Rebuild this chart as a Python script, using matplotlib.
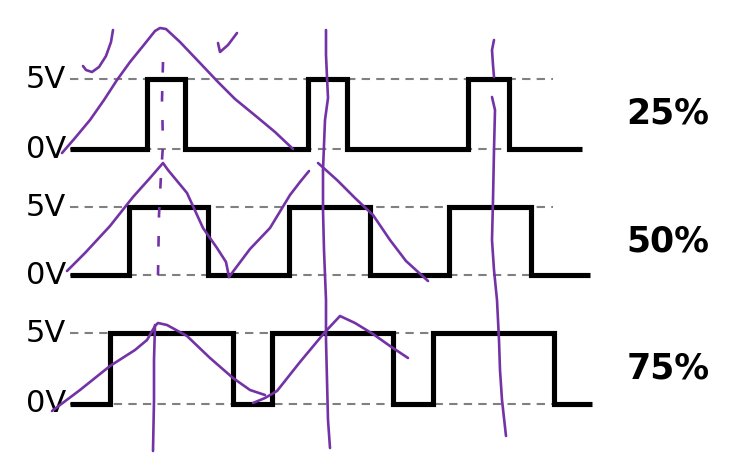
import matplotlib
matplotlib.use("Agg")
import matplotlib.pyplot as plt

# PWM waveforms, in picture units (x to the right, y downwards)
x_start = 70
dash_end = 553

wave_labels = ["25%", "50%", "75%"]
high_levels = [79, 207, 333]
low_levels = [149, 275, 404]
wave_ends = [582, 590, 592]
# rising / falling edges of each wave
edges_25 = [147, 185, 308, 347, 468, 509]
edges_50 = [129, 208, 289, 370, 449, 531]
edges_75 = [110, 233, 272, 393, 433, 554]
all_edges = [edges_25, edges_50, edges_75]

# hand drawn purple scribbles (x, y)
stroke_big_tri = [(62, 153), (75, 138), (90, 120), (104, 100), (117, 80), (130, 62),
                  (143, 46), (155, 31), (160, 28), (166, 29), (180, 42), (200, 63),
                  (218, 82), (235, 99), (257, 117), (275, 132), (293, 149)]
stroke_hook = [(113, 30), (111, 42), (106, 56), (99, 67), (92, 72), (86, 70), (83, 66)]
stroke_check = [(218, 43), (220, 52), (228, 45), (237, 33)]
stroke_tri50_a = [(67, 271), (85, 253), (110, 226), (133, 197), (150, 178), (163, 163),
                  (168, 170), (187, 193), (203, 228), (217, 248), (226, 262), (229, 277)]
stroke_tri50_b = [(229, 277), (250, 249), (270, 228), (290, 195), (300, 182), (309, 171)]
stroke_tri50_c = [(318, 163), (337, 180), (355, 198), (373, 215), (390, 240),
                  (406, 261), (428, 281)]
stroke_75_a = [(52, 411), (80, 390), (110, 366), (135, 350), (147, 340), (155, 326),
               (158, 323), (167, 325), (187, 336), (210, 358), (233, 378), (250, 390),
               (265, 395)]
stroke_75_b = [(253, 403), (265, 398), (277, 391), (300, 362), (325, 332), (340, 316),
               (355, 323), (373, 334), (390, 346), (408, 358)]
stroke_vert_a = [(326, 30), (326, 55), (327, 77), (328, 98), (325, 120), (324, 145),
                 (323, 170), (323, 210), (324, 250), (326, 300), (326, 340), (327, 380),
                 (328, 420), (330, 448)]
stroke_vert_b = [(494, 40), (492, 50), (493, 65), (494, 77)]
stroke_vert_c = [(492, 97), (495, 110), (494, 150), (493, 200), (492, 240), (494, 270),
                 (497, 300), (499, 340), (500, 370), (502, 400), (506, 436)]
stroke_vert_d = [(155, 325), (154, 360), (154, 400), (153, 451)]
strokes = [stroke_big_tri, stroke_hook, stroke_check, stroke_tri50_a, stroke_tri50_b,
           stroke_tri50_c, stroke_75_a, stroke_75_b, stroke_vert_a, stroke_vert_b,
           stroke_vert_c, stroke_vert_d]
dashed_stroke = [(163, 62), (162, 100), (163, 145), (161, 175), (159, 215), (158, 275)]

purple = "#7333a6"

fig = plt.figure(figsize=(7.46, 4.55), dpi=100)
ax = fig.add_axes([0, 0, 1, 1])
ax.set_xlim(0, 746)
ax.set_ylim(455, 0)
ax.axis("off")

for lab, hi, lo, end, edges in zip(wave_labels, high_levels, low_levels, wave_ends, all_edges):
    # dashed reference lines
    ax.hlines([hi, lo], x_start, dash_end, colors="#808080", linewidth=1.5,
              linestyles=(0, (4, 3)), zorder=1)
    # square wave
    xs = [x_start]
    ys = [lo]
    level = lo
    for e in edges:
        xs += [e, e]
        ys += [level, hi if level == lo else lo]
        level = ys[-1]
    xs.append(end)
    ys.append(level)
    ax.plot(xs, ys, color="black", linewidth=3.7, solid_joinstyle="miter",
            solid_capstyle="butt", zorder=2)
    ax.text(46, hi, "5V", fontsize=22, ha="center", va="center")
    ax.text(46, lo, "0V", fontsize=22, ha="center", va="center")
    ax.text(668, (hi + lo) / 2, lab, fontsize=25, fontweight="bold",
            ha="center", va="center")

for s in strokes:
    ax.plot([p[0] for p in s], [p[1] for p in s], color=purple, linewidth=1.9,
            solid_capstyle="round", solid_joinstyle="round", zorder=3)
ax.plot([p[0] for p in dashed_stroke], [p[1] for p in dashed_stroke], color=purple,
        linewidth=1.9, linestyle=(0, (4, 7)), zorder=3)

fig.savefig("out.png", dpi=100)
